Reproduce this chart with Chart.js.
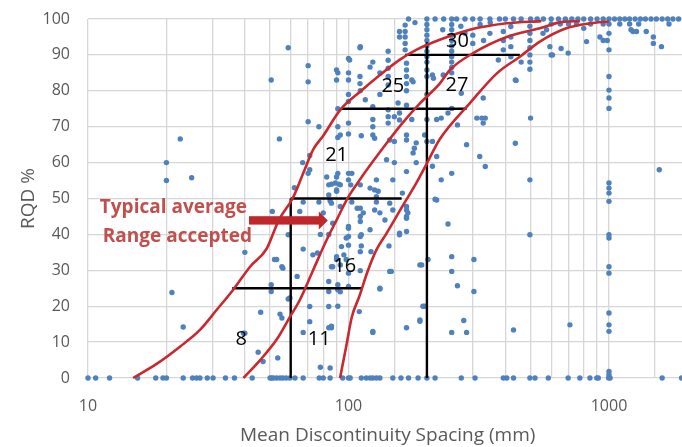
<!DOCTYPE html>
<html>
<head>
<meta charset="utf-8">
<script src="https://cdn.jsdelivr.net/npm/chart.js@4.4.0/dist/chart.umd.min.js"></script>
<style>
  html, body { margin: 0; padding: 0; background: #fff; overflow: hidden; }
</style>
</head>
<body>
<canvas id="rqd" width="690" height="447"></canvas>
<script>
// RQD vs mean discontinuity spacing, log x axis

const xTickLabels = [10, 100, 1000];

// points lying on RQD = 0
const zeroRow = [10, 10.7, 12.1, 15.5, 18.2, 19.4, 20, 23.2, 25.2, 26.1, 26.9, 28.7, 30.2, 33.7, 36.5,
  42.7, 50, 50.7, 51.5, 53, 54.6, 55.9, 57.6, 59.6, 62.3, 67, 77.2, 80, 85, 95, 100, 101.5, 112, 117,
  121, 124, 128, 132, 148, 159, 170, 185, 200, 215, 271, 306, 393, 405, 430, 497, 520, 585, 697, 773,
  845, 898, 910, 997, 1010, 1600, 1900];

// points lying on RQD = 100
const fullRow = [170, 200, 215, 232, 249, 260, 280, 300, 320, 349, 380, 400, 430, 460, 500, 530, 560,
  600, 640, 680, 720, 760, 800, 850, 900, 950, 1000, 1050, 1100, 1150, 1200, 1260, 1320, 1380, 1450,
  1520, 1600, 1680, 1760, 1850, 1950];
const nearFullRow = [600, 650, 700, 750, 850, 950, 1000, 1100, 1200, 1300, 1700];

// everything else [spacing mm, RQD %]
const scatterLow = [
  [20, 60], [20, 55], [22.6, 66.6], [25, 55.8], [21, 23.8], [23.2, 14.2],
  [58.7, 92], [50.5, 83], [70, 87], [70, 82.5], [54.3, 66.6], [70, 71.4], [77, 70], [66.7, 60], [71, 62],
  [71, 58], [70, 57], [62, 53], [67, 49], [51, 46.4], [65, 46.4],
  [40, 35], [53, 33], [55.5, 31], [56, 30.6], [50.5, 26], [50.5, 24.1], [58.7, 39.9], [58.7, 22], [63.5, 28.3],
  [67, 35.9], [46, 18.3], [54.6, 17.8], [55.5, 16.7], [40, 12.5], [45, 7.2], [47, 4.6], [53.5, 5.6],
  [71, 19.9], [71, 15.7], [67, 12.7], [78, 3], [84, 26.9], [84, 24.1], [84, 19.9], [84, 14], [86, 14],
  [90, 33.8], [98, 33], [93, 31.5], [100, 29.2], [100, 25.5], [84, 40], [98, 39], [94, 36.6], [87, 43.1],
  [52, 33], [76, 34.8], [96, 34.3], [86, 31], [91, 26], [93, 24], [59.6, 22.3], [91, 20], [85, 2.8],
  [39.5, 12.5], [73, 34.3], [78, 40], [80, 46], [86, 48.7], [93, 47.8]
];
const scatterMid = [
  [91, 85], [100, 89], [100, 85], [100, 83], [100, 79], [100, 77], [91, 75], [91, 70], [91, 67], [100, 71],
  [100, 68], [90, 56], [86, 54], [92, 54], [84, 51], [90, 52.4], [77, 49], [85, 49.4], [100, 57], [90, 83],
  [90, 85.8], [110.7, 92], [110.7, 84], [110.7, 82], [121, 86.6], [124, 88], [111, 80], [116, 77.5],
  [124, 75.6], [124, 72], [124, 70], [132, 85], [132, 79], [142, 91], [142, 88.5], [142, 86.3], [142, 84],
  [142, 81.6], [142, 74.7], [142, 72.8], [142, 71], [150, 72.8], [155, 76.6], [157, 96.5], [157, 95],
  [165, 98.3], [165, 96.5], [165, 95], [165, 93.2], [165, 91.4], [167, 87.7], [167, 85.8], [167, 84],
  [167, 82], [167, 80], [175, 83], [177, 82.5], [167, 76], [157, 73.8], [157, 71.9], [175, 72], [101, 88.6],
  [111, 92.3], [93, 67.7], [112, 67.5], [124, 67.7], [126, 66.8], [144, 66.3], [150, 65.9], [167, 67.7],
  [167, 66.3], [182, 65.5], [179, 64], [177, 62.7], [196, 67.7], [140, 60.8], [150, 60], [182, 60],
  [167, 57.5], [210, 59], [91, 57], [103, 57], [82.5, 56], [84, 53.8], [89, 54.3], [93, 53.8], [100, 55.2],
  [102, 53.8], [90, 52], [111, 53.8], [121, 52.9], [126, 52.4], [128, 55.2], [128, 50.5], [130, 52],
  [148, 55.2], [161, 51.5], [103, 49], [108, 47.3], [111, 47.3], [111, 45], [111, 43.6], [114, 46],
  [126, 46.8], [128, 49], [144, 48.7], [148, 46.8], [167, 47.8], [169, 46], [167, 44.5], [138, 44],
  [100, 42.2], [100, 39.4], [111, 39.4], [121, 41.3], [157, 40.3], [100, 37], [111, 35.2],
  [191, 31.5], [202, 33], [146, 29.7], [110, 18.5], [124, 13], [167, 14], [188, 15.8], [196, 20],
  [132, 25], [188, 31.5], [193, 20], [144, 29.7], [132, 24.8], [124, 12.7], [167, 40.8], [157, 39.9],
  [167, 45], [167, 46.8], [143, 36.8], [122, 35.2], [112, 39.9], [112, 36.8], [100, 41.7], [90, 33],
  [87, 31], [111, 29.9], [91, 24.6], [86, 14.4], [132, 46], [188, 16.2]
];
const scatterHigh = [
  [241, 42.9], [249, 33.8], [249, 29.7], [262, 25.7], [277, 16], [249, 12.7], [284, 12.7], [303, 33],
  [303, 24.1], [430, 13.4], [497, 39.9], [708, 14.8], [1560, 58],
  [200, 85.8], [200, 84], [210, 84.4], [212, 83.5], [200, 79], [200, 72], [218, 72], [200, 65.9],
  [210, 65.9], [218, 49.6], [215, 49.8], [500, 72.4], [437, 65.4], [497, 55.2], [329, 71], [325, 72.4],
  [284, 65], [262, 70.5], [319, 61.7], [335, 58.9], [218, 61.7], [249, 57], [227, 55.2], [249, 75.1],
  [241, 73.8], [231, 84.4], [593, 92.3], [600, 90], [697, 90.5], [820, 93.7], [923, 95], [950, 94],
  [558, 96], [576, 97], [1236, 96.5], [1275, 96.5], [1390, 96.5], [1480, 93.2], [1590, 92.3],
  [300, 95.5], [300, 93.2], [349, 96], [393, 96.5], [393, 94], [393, 91.4], [420, 97.9], [420, 95],
  [420, 92.3], [437, 83], [329, 78], [311, 72.4], [335, 72.4], [271, 79.3], [227, 72.4], [440, 82.9],
  [607, 90], [655, 91.8], [800, 97.4], [420, 89.5], [460, 88], [376, 88.6], [180, 99], [230, 97],
  [270, 98], [280, 96], [320, 98.5], [350, 99], [330, 94], [985, 94], [1215, 97], [1480, 95],
  [200, 98.5], [200, 97], [200, 95.5], [200, 94], [200, 92.5], [200, 91], [200, 89.5], [200, 88],
  [249, 98.5], [249, 97], [249, 95.5], [249, 94], [249, 92.5], [249, 91], [249, 89.5], [249, 88],
  [249, 86.5], [249, 85], [497, 98], [497, 96], [497, 94], [497, 92], [497, 90], [497, 88], [497, 86],
  [1000, 96], [1000, 91.4], [1000, 84], [1000, 80.2], [1000, 78], [1000, 75.1], [1000, 54.3],
  [1000, 52.9], [1000, 51.5], [1000, 49.2], [1000, 39.9], [1000, 39], [1000, 31], [1000, 29.2],
  [1000, 18.1], [1000, 14.8], [1000, 13], [1000, 1.8], [1000, 0.9]
];

// hand drawn red envelope curves
const curveLeft = [[14.9, 0], [18.4, 4], [22.6, 8.8], [26.9, 13.4], [31.2, 19], [36.1, 24.6], [41.9, 31],
  [48.5, 36], [54, 44], [61, 50], [67, 57], [73, 63.5], [80, 67.5], [93, 74.7], [111, 79.8], [132, 84.4],
  [157, 88.6], [182, 91.4], [224, 94.2], [292, 97], [405, 98.8], [550, 99.4]];
const curveMiddle = [[39.5, 0], [45.8, 5], [53, 10.7], [59.6, 17], [65.1, 21.8], [73.2, 30.1],
  [82.5, 38.5], [90, 44], [100, 50.5], [110.7, 55.3], [124, 60.3], [140, 65.4], [161, 71], [188, 76.5],
  [224, 82], [245, 85.8], [301, 90.5], [405, 95], [543, 97.4], [662, 99.2], [773, 99.4]];
const curveRight = [[92.8, 0], [98, 8.8], [103, 17], [110, 22.7], [118, 29.4], [128, 35.7], [140, 40.3],
  [161, 47.8], [182, 54.3], [200, 59.8], [224, 66.5], [292, 76.5], [373, 85], [455, 89.5], [543, 93.7],
  [685, 97.4], [845, 98.8], [1000, 99.3]];

// black guide segments
const guideLines = [
  [[35.8, 25], [112, 25]],
  [[60, 0], [60, 50]],
  [[60, 50], [160, 50]],
  [[200, 0], [200, 93.5]],
  [[94, 75], [284, 75]],
  [[165, 90], [455, 90]]
];

// zone numbers [text, spacing, RQD]
const zoneLabels = [["8", 38.7, 10.7], ["11", 77.2, 10.7], ["16", 96.8, 31], ["21", 90, 62.1],
  ["25", 148, 81.2], ["27", 261, 81.6], ["30", 262, 93.7]];
const noteLines = [["Typical average", 11.1, 47.4], ["Range accepted", 11.4, 39.3]];
const noteArrow = [[41.5, 43.9], [83.3, 43.9]];

const GRID = "#d6d6d6";
const TEXT = "#595959";
const RED = "#c8282e";
const BLUE = "#4f81bd";
const FONT = "'Open Sans', 'Noto Sans', sans-serif";

const toXY = pts => pts.map(([x, y]) => ({ x, y }));

function curveSet(pts) {
  return {
    data: toXY(pts), showLine: true, borderColor: RED, borderWidth: 2.6, pointRadius: 0,
    cubicInterpolationMode: "monotone", order: 1, clip: false,
  };
}

const pointSet = {
  data: [
    ...zeroRow.map(x => ({ x, y: 0 })),
    ...fullRow.map(x => ({ x, y: 100 })),
    ...nearFullRow.map(x => ({ x, y: 98.6 })),
    ...toXY(scatterLow), ...toXY(scatterMid), ...toXY(scatterHigh),
  ],
  backgroundColor: BLUE, borderWidth: 0, pointRadius: 2.7, order: 3, clip: false,
};

const guideSets = guideLines.map(seg => ({
  data: toXY(seg), showLine: true, borderColor: "#000", borderWidth: 2.4, pointRadius: 0, order: 2,
}));

const notesPlugin = {
  id: "notes",
  afterDatasetsDraw(chart) {
    const { ctx, scales: { x, y } } = chart;
    ctx.save();
    ctx.fillStyle = "#000";
    ctx.font = "20px " + FONT;
    ctx.textAlign = "center";
    ctx.textBaseline = "middle";
    zoneLabels.forEach(([t, vx, vy]) => ctx.fillText(t, x.getPixelForValue(vx), y.getPixelForValue(vy)));

    // arrow
    const x0 = x.getPixelForValue(noteArrow[0][0]);
    const x1 = x.getPixelForValue(noteArrow[1][0]);
    const ya = y.getPixelForValue(noteArrow[0][1]);
    ctx.fillStyle = "#c0272d";
    ctx.fillRect(x0, ya - 4.2, x1 - x0 - 8, 8.4);
    ctx.beginPath();
    ctx.moveTo(x1 - 9, ya - 9);
    ctx.lineTo(x1, ya);
    ctx.lineTo(x1 - 9, ya + 9);
    ctx.closePath();
    ctx.fill();

    ctx.fillStyle = "#c0504d";
    ctx.font = "bold 19px " + FONT;
    ctx.textAlign = "left";
    noteLines.forEach(([t, vx, vy]) => ctx.fillText(t, x.getPixelForValue(vx), y.getPixelForValue(vy)));
    ctx.restore();
  },
};

const isDecade = v => Math.abs(Math.log10(v) - Math.round(Math.log10(v))) < 1e-9;

// tick marks are invisible: they only push the labels away from the plot
const hiddenTicks = len => ({ color: GRID, lineWidth: 1.3, drawTicks: true, tickLength: len, tickColor: "rgba(0,0,0,0)" });

new Chart(document.getElementById("rqd").getContext("2d"), {
  type: "scatter",
  data: {
    datasets: [pointSet, ...guideSets, curveSet(curveLeft), curveSet(curveMiddle), curveSet(curveRight)],
  },
  options: {
    responsive: false,
    animation: false,
    events: [],
    layout: { autoPadding: false, padding: { top: 19, right: 2.6, left: 0, bottom: 0 } },
    plugins: { legend: { display: false }, tooltip: { enabled: false } },
    scales: {
      x: {
        type: "logarithmic",
        min: 10,
        max: 2000,
        afterFit: s => { s.height = 69; },
        grid: hiddenTicks(19),
        border: { display: false },
        ticks: {
          autoSkip: false, maxRotation: 0, padding: 0, color: TEXT,
          font: { family: FONT, size: 16 },
          callback: v => (isDecade(v) && xTickLabels.includes(Math.round(v)) ? String(Math.round(v)) : ""),
        },
        title: {
          display: true, text: "Mean Discontinuity Spacing (mm)", color: TEXT,
          font: { family: FONT, size: 19 }, padding: 0,
        },
      },
      y: {
        min: 0,
        max: 100,
        afterFit: s => { s.width = 88; },
        grid: hiddenTicks(18),
        border: { display: false },
        ticks: { stepSize: 10, padding: 0, color: TEXT, font: { family: FONT, size: 16 } },
        title: {
          display: true, text: "RQD %", color: TEXT,
          font: { family: FONT, size: 19 }, padding: { top: 17, bottom: 0 },
        },
      },
    },
  },
  plugins: [notesPlugin],
});
</script>
</body>
</html>
